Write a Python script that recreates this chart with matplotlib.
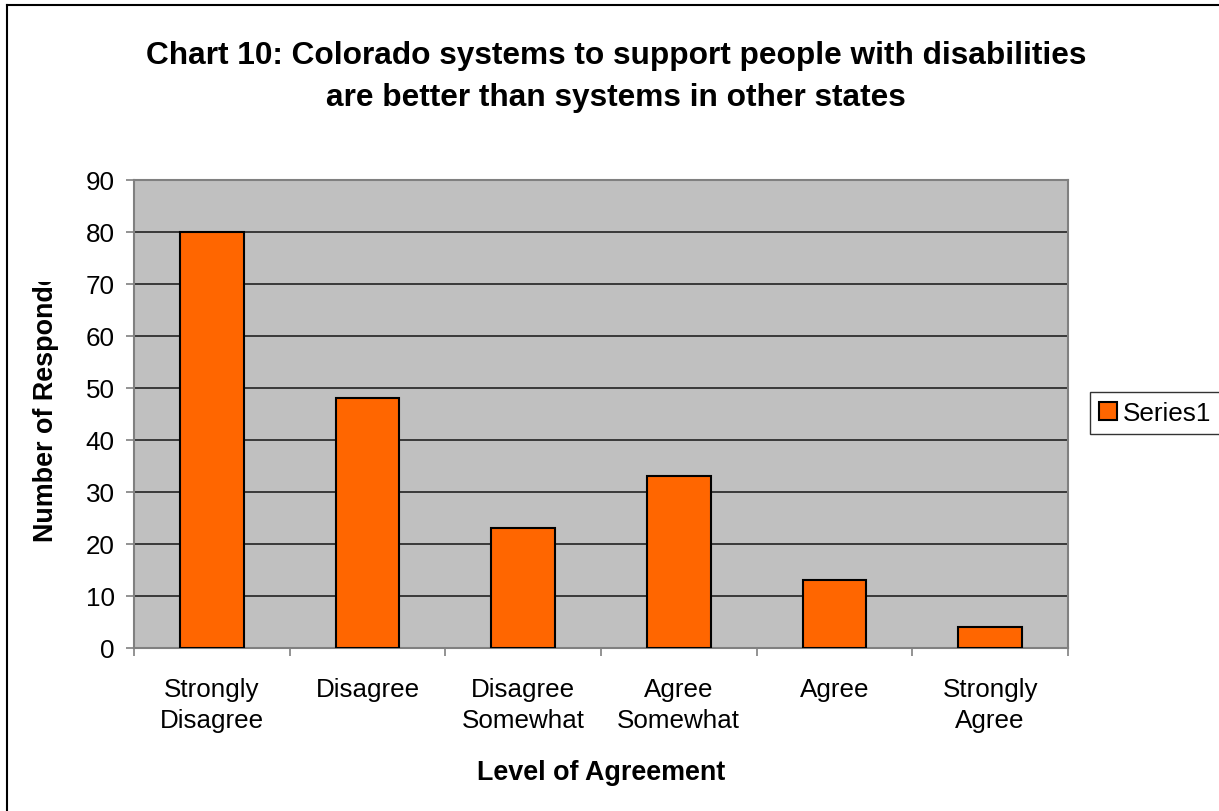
import matplotlib
matplotlib.use("Agg")
import matplotlib.pyplot as plt
from matplotlib.lines import Line2D
from matplotlib.transforms import Bbox, TransformedBbox
import numpy as np

categories = ["Strongly\nDisagree", "Disagree", "Disagree\nSomewhat",
              "Agree\nSomewhat", "Agree", "Strongly\nAgree"]
responses = [80, 48, 23, 33, 13, 4]
y_ticks = [0, 10, 20, 30, 40, 50, 60, 70, 80, 90]

plt.rcParams['font.family'] = ['Liberation Sans', 'DejaVu Sans']

W, H = 1219, 812
fig = plt.figure(figsize=(W / 100, H / 100), dpi=100)
ax = fig.add_axes([134 / W, 1 - 649 / H, (1068 - 134) / W, (649 - 181) / H])
ax.set_facecolor('#C0C0C0')

x = np.arange(len(categories))
ax.bar(x, responses, width=0.41, color='#FF6600', edgecolor='black',
       linewidth=1.5, label='Series1', zorder=3)

ax.set_xlim(-0.5, len(categories) - 0.5)
ax.set_ylim(0, 90)
ax.set_yticks(y_ticks)
ax.yaxis.grid(True, color='#222222', linewidth=1.2, zorder=1)
ax.set_axisbelow(True)

# category ticks on the boundaries, labels at the centres
ax.set_xticks(np.arange(len(categories) + 1) - 0.5)
ax.set_xticklabels([])
ax.set_xticks(x, minor=True)
ax.set_xticklabels(categories, minor=True, linespacing=1.38)
ax.tick_params(axis='x', which='minor', length=0, pad=21, labelsize=18.7)
ax.tick_params(axis='x', which='major', length=6, color='#808080', width=1.2)
ax.tick_params(axis='y', length=6, color='#808080', width=1.2, pad=8, labelsize=18.7)

for s in ax.spines.values():
    s.set_color('#808080')
    s.set_linewidth(1.5)

ax.set_xlabel('Level of Agreement', fontsize=19.4, fontweight='bold', labelpad=19)

# y label is cut off at the top like in the original
ylab = fig.text(46 / W, 1 - 542 / H, 'Number of Respondents', rotation=90,
                ha='center', va='bottom', fontsize=19.4, fontweight='bold')
ylab.set_clip_box(TransformedBbox(Bbox([[0, 0], [1, 1 - 283 / H]]), fig.transFigure))
ylab.set_clip_on(True)

fig.text(616 / W, 1 - 77 / H,
         'Chart 10: Colorado systems to support people with disabilities\n'
         'are better than systems in other states',
         ha='center', va='center', fontsize=22.8, fontweight='bold', linespacing=1.52)

leg = ax.legend(loc='upper left', bbox_to_anchor=(1090 / W, 1 - 393 / H),
                bbox_transform=fig.transFigure, borderaxespad=0, fancybox=False,
                edgecolor='black', fontsize=18.8, handlelength=0.7,
                handleheight=0.7, handletextpad=0.2, borderpad=0.35)
leg.get_frame().set_linewidth(1.0)

# chart frame (only left and top edge are visible)
fig.add_artist(Line2D([7 / W, 7 / W], [0, 1 - 6 / H], color='black', linewidth=1.5))
fig.add_artist(Line2D([7 / W, 1], [1 - 6 / H, 1 - 6 / H], color='black', linewidth=1.5))

fig.savefig('out.png', dpi=100)
